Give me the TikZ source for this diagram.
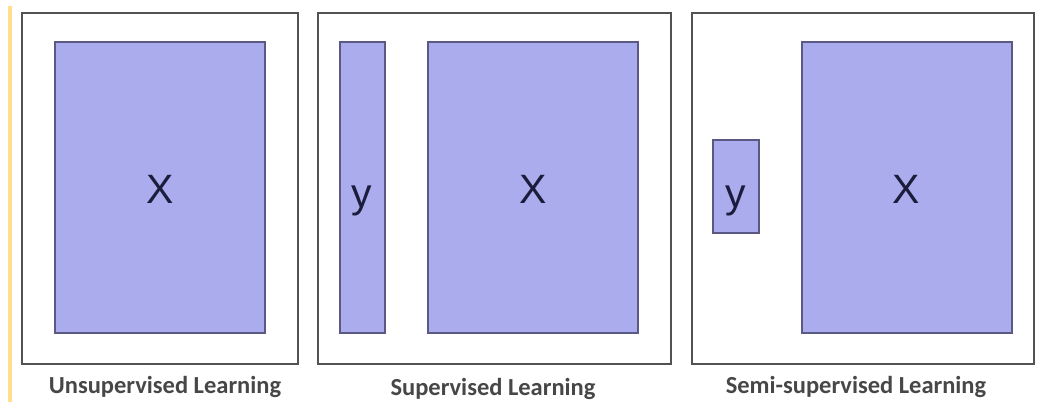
\documentclass[tikz,border=0pt]{standalone}
\usepackage{fontspec}
\setmainfont{Carlito}
\newfontfamily\letterfont{Liberation Sans}
\begin{document}
\begin{tikzpicture}[x=1pt,y=-1pt,
  panel/.style={draw=black!68,line width=2.6pt},
  datablock/.style={draw=black!45!blue!30!gray,fill=datafill,line width=1.2pt},
  letter/.style={font=\letterfont\fontsize{41}{41}\selectfont,text=navytext,inner sep=0pt},
  caption/.style={font=\bfseries\fontsize{24.5}{24.5}\selectfont,text=black!72,inner sep=0pt}]
\definecolor{datafill}{RGB}{170,172,238}
\definecolor{navytext}{RGB}{28,28,60}
\definecolor{edgeyellow}{RGB}{255,222,140}
\useasboundingbox (0,0) rectangle (1038,402);
\fill[white] (0,0) rectangle (1038,402);
% margin rule on the left
\fill[edgeyellow] (8,6) rectangle (12,402);
% unsupervised
\draw[panel] (22,13) rectangle (298,364);
\draw[datablock] (55,42) rectangle (265,333);
\node[letter,anchor=base] (x1) at (160,203) {X};
\node[caption,anchor=base] (c1) at (165,393) {Unsupervised Learning};
% supervised
\draw[panel] (318,13) rectangle (671,364);
\draw[datablock] (340,42) rectangle (385,333);
\draw[datablock] (428,42) rectangle (638,333);
\node[letter,anchor=base] (y2) at (362,207) {y};
\node[letter,anchor=base] (x2) at (533,203) {X};
\node[caption,anchor=base] (c2) at (493,395) {Supervised Learning};
% semi-supervised
\draw[panel] (692,13) rectangle (1034,364);
\draw[datablock] (713,140) rectangle (759,233);
\draw[datablock] (802,42) rectangle (1012,333);
\node[letter,anchor=base] (y3) at (736,207) {y};
\node[letter,anchor=base] (x3) at (906,203) {X};
\node[caption,anchor=base] (c3) at (856,393) {Semi-supervised Learning};
\end{tikzpicture}
\end{document}
